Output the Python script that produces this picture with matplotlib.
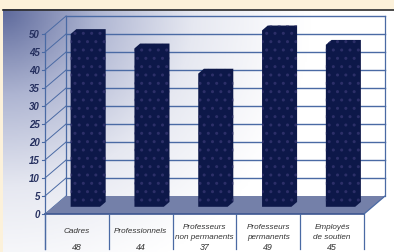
import numpy as np
import matplotlib
matplotlib.use("Agg")
from matplotlib import pyplot as plt
from matplotlib.patches import Polygon
from matplotlib.colors import LinearSegmentedColormap

categories = [["Cadres"], ["Professionnels"], ["Professeurs", "non permanents"],
              ["Professeurs", "permanents"], ["Employés", "de soutien"]]
values = [48, 44, 37, 49, 45]
y_ticks = [0, 5, 10, 15, 20, 25, 30, 35, 40, 45, 50]

# pseudo 3d depth (in category units, value units)
DX, DY = 0.33, 5
F0, F1 = 0.4, 0.67
BAR_W = 0.46

plt.rcParams["hatch.linewidth"] = 1.0

fig = plt.figure(figsize=(3.94, 2.53), dpi=100)
fig.patch.set_facecolor("#fcf1da")

# background panel in pixel coords
bg = fig.add_axes([0, 0, 1, 1])
bg.set_xlim(0, 394)
bg.set_ylim(253, 0)
bg.axis("off")
xx, yy = np.meshgrid(np.linspace(3, 394, 200), np.linspace(10, 253, 130))
d = np.sqrt(((xx - 3) / 310) ** 2 + ((yy - 10) / 290) ** 2)
dark = np.clip(1 - d, 0, 1) ** 1.15
cmap = LinearSegmentedColormap.from_list("panel", ["#ffffff", "#e6e8f1", "#aeb5d2", "#5e6a9c"])
bg.imshow(dark, cmap=cmap, extent=(3, 394, 253, 10), aspect="auto", vmin=0, vmax=1)
bg.plot([3, 394], [10.5, 10.5], color="#2a2a2a", lw=1.2)

# chart axes: front plane in data units
ax = fig.add_axes([0, 0, 1, 1])
ax.patch.set_alpha(0)
ax.axis("off")
px_cat = 63.8
px_val = 3.6
ax.set_xlim(-0.5 - 45 / px_cat, -0.5 + (394 - 45) / px_cat)
ax.set_ylim(-(253 - 215) / px_val, 215 / px_val)

n = len(values)
left, right = -0.5, n - 0.5
grid_c = "#4a6aa4"

# floor
ax.add_patch(Polygon([(left, 0), (right, 0), (right + DX, DY), (left + DX, DY)],
                     closed=True, facecolor="#7480a9", edgecolor="none", zorder=2))
ax.plot([left, right], [0, 0], color="#3c5590", lw=1.2, zorder=3)
ax.plot([right, right + DX], [0, DY], color=grid_c, lw=0.9, zorder=3)

# back wall grid
for v in y_ticks:
    if v > 0:
        ax.plot([left + DX, right + DX], [v + DY, v + DY], color=grid_c, lw=1.0, zorder=1)
    ax.plot([left, left + DX], [v, v + DY], color=grid_c, lw=0.7, zorder=1)
    ax.plot([left - 0.04, left], [v, v], color=grid_c, lw=0.8, zorder=1)
    ax.text(left - 0.08, v, str(v), ha="right", va="center", fontsize=7,
            fontweight="bold", fontstyle="italic", color="#26305f",
            family="Liberation Sans")
ax.plot([left + DX, left + DX], [DY, 50 + DY], color=grid_c, lw=0.9, zorder=1)
ax.plot([right + DX, right + DX], [DY, 50 + DY], color=grid_c, lw=0.9, zorder=1)
ax.plot([left, left], [-9.7, 50], color=grid_c, lw=0.9, zorder=3)

# bars
for i, v in enumerate(values):
    x0 = i - BAR_W / 2 + F0 * DX
    x1 = x0 + BAR_W
    y0 = F0 * DY
    top = v + F0 * DY
    bx, by = (F1 - F0) * DX, (F1 - F0) * DY
    pts = [(x0, y0), (x0, top), (x0 + bx, top + by), (x1 + bx, top + by),
           (x1 + bx, y0 + by), (x1, y0)]
    ax.add_patch(Polygon(pts, closed=True, facecolor="#0d1849", edgecolor="#2c2f68",
                         linewidth=0, hatch="..", zorder=4))

# category dividers and labels
for k in range(n + 1):
    ax.plot([left + k, left + k], [0, -9.7], color=grid_c, lw=0.9, zorder=3)
for i, (lab, v) in enumerate(zip(categories, values)):
    ys = [-4.7] if len(lab) == 1 else [-3.6, -6.2]
    for line, y in zip(lab, ys):
        ax.text(i, y, line, ha="center", va="center", fontsize=5.9,
                fontstyle="italic", color="#333333", family="Liberation Sans")
    ax.text(i, -8.9, str(v), ha="center", va="center", fontsize=6.4,
            fontstyle="italic", color="#333333", family="Liberation Sans")

fig.savefig("out.png", dpi=100)
